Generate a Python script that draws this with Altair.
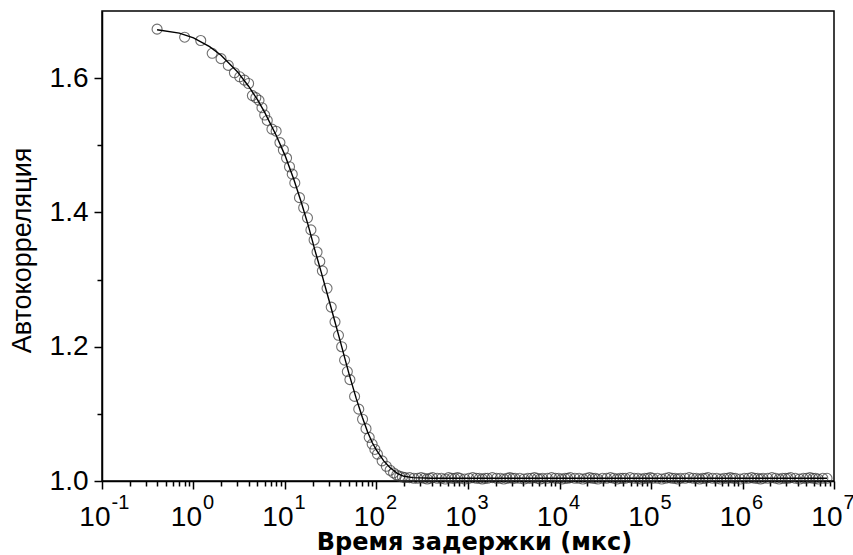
import altair as alt
import pandas as pd

# --- measured correlation curve (lag time, us) ---
tau = [0.4, 0.8, 1.2, 1.6, 2.0, 2.4, 2.8, 3.2, 3.6, 4.0, 4.4, 4.8, 5.2, 5.6, 6.0, 6.4,
       7.2, 8.0, 8.8, 9.6, 10.4, 11.2, 12.0, 12.8,
       14.4, 16.0, 17.6, 19.2, 20.8, 22.4, 24.0, 25.6,
       28.8, 32.0, 35.2, 38.4, 41.6, 44.8, 48.0, 51.2,
       57.6, 64.0, 70.4, 76.8, 83.2, 89.6, 96.0, 102.4,
       115.2, 128.0, 140.8, 153.6, 166.4, 179.2, 192.0, 204.8]
acf = [1.673, 1.661, 1.656, 1.637, 1.629, 1.619, 1.608, 1.602, 1.597, 1.592, 1.574, 1.571, 1.567, 1.556, 1.545, 1.537,
       1.524, 1.521, 1.504, 1.493, 1.481, 1.468, 1.457, 1.444,
       1.422, 1.407, 1.392, 1.374, 1.359, 1.341, 1.327, 1.313,
       1.287, 1.259, 1.237, 1.217, 1.200, 1.180, 1.163, 1.151,
       1.126, 1.107, 1.092, 1.078, 1.065, 1.055, 1.047, 1.040,
       1.030, 1.022, 1.016, 1.012, 1.009, 1.007, 1.006, 1.005]

# --- flat tail of the measured curve ---
tail_tau = [230.4, 256, 281.6, 307.2, 332.8, 358.4, 384, 409.6,
            460.8, 512, 563.2, 614.4, 665.6, 716.8, 768, 819.2,
            921.6, 1024, 1126.4, 1228.8, 1331.2, 1433.6, 1536, 1638.4,
            1843.2, 2048, 2252.8, 2457.6, 2662.4, 2867.2, 3072, 3276.8,
            3686.4, 4096, 4505.6, 4915.2, 5324.8, 5734.4, 6144, 6553.6,
            7372.8, 8192, 9011.2, 9830.4, 10649.6, 11468.8, 12288, 13107.2,
            14745.6, 16384, 18022.4, 19660.8, 21299.2, 22937.6, 24576, 26214.4,
            29491.2, 32768, 36044.8, 39321.6, 42598.4, 45875.2, 49152, 52428.8,
            58982.4, 65536, 72089.6, 78643.2, 85196.8, 91750.4, 98304, 104857.6,
            117964.8, 131072, 144179.2, 157286.4, 170393.6, 183500.8, 196608, 209715.2,
            235929.6, 262144, 288358.4, 314572.8, 340787.2, 367001.6, 393216, 419430.4,
            471859.2, 524288, 576716.8, 629145.6, 681574.4, 734003.2, 786432, 838860.8,
            943718.4, 1048576, 1153433.6, 1258291.2, 1363148.8, 1468006.4, 1572864, 1677721.6,
            1887436.8, 2097152, 2306867.2, 2516582.4, 2726297.6, 2936012.8, 3145728, 3355443.2,
            3774873.6, 4194304, 4613734.4, 5033164.8, 5452595.2, 5872025.6, 6291456, 6710886.4,
            7549747.2, 8388608]
tail_acf = [1.005, 1.004, 1.004, 1.005, 1.004, 1.003, 1.004, 1.005,
            1.004, 1.004, 1.003, 1.005, 1.004, 1.004, 1.005, 1.004,
            1.003, 1.004, 1.005, 1.004, 1.004, 1.003, 1.004, 1.004,
            1.005, 1.004, 1.004, 1.003, 1.004, 1.005, 1.004, 1.004,
            1.004, 1.003, 1.004, 1.004, 1.005, 1.004, 1.003, 1.004,
            1.004, 1.005, 1.004, 1.004, 1.003, 1.004, 1.004, 1.005,
            1.004, 1.004, 1.003, 1.004, 1.005, 1.004, 1.004, 1.003,
            1.004, 1.004, 1.005, 1.004, 1.003, 1.004, 1.004, 1.004,
            1.005, 1.004, 1.004, 1.003, 1.004, 1.004, 1.005, 1.004,
            1.004, 1.003, 1.004, 1.005, 1.004, 1.004, 1.003, 1.004,
            1.004, 1.005, 1.004, 1.004, 1.003, 1.004, 1.004, 1.005,
            1.004, 1.004, 1.003, 1.004, 1.004, 1.005, 1.004, 1.004,
            1.003, 1.004, 1.004, 1.005, 1.004, 1.004, 1.003, 1.004,
            1.004, 1.005, 1.004, 1.003, 1.004, 1.004, 1.004, 1.005,
            1.004, 1.003, 1.004, 1.004, 1.005, 1.004, 1.004, 1.003,
            1.004, 1.004]

# --- fitted curve ---
fit_tau = [0.4, 0.7, 1, 1.5, 2, 3, 4, 5, 6, 8, 10, 12.5, 15, 18, 21, 25, 30, 35, 40, 45,
           50, 60, 70, 80, 90, 100, 120, 140, 170, 200, 250, 400, 1000, 1e4, 1e5, 1e6, 8388608]
fit_acf = [1.672, 1.667, 1.660, 1.647, 1.634, 1.610, 1.588, 1.568, 1.549, 1.515, 1.485, 1.449,
           1.416, 1.380, 1.346, 1.310, 1.271, 1.238, 1.209, 1.183, 1.160, 1.123, 1.095, 1.073,
           1.057, 1.046, 1.030, 1.020, 1.011, 1.007, 1.005, 1.004, 1.004, 1.004, 1.004, 1.004, 1.004]

# --- axis ticks ---
x_major = [0.1, 1, 10, 100, 1000, 10000, 100000, 1000000, 10000000]
x_minor = [m * 10.0 ** k for k in range(-1, 7) for m in range(2, 10)]
y_major = [1.0, 1.2, 1.4, 1.6]
y_minor = [1.1, 1.3, 1.5]

pts = pd.DataFrame({"tau": tau + tail_tau, "acf": acf + tail_acf})
fit = pd.DataFrame({"tau": fit_tau, "acf": fit_acf})

W, H = 732, 470
LEFT, TOP = 102, 11

xs = alt.Scale(type="log", domain=[0.1, 1e7], nice=False)
ys = alt.Scale(domain=[1.0, 1.7], nice=False, zero=False)

points = alt.Chart(pts).mark_point(
    shape="circle", filled=False, size=100, color="#333333", strokeWidth=1.1
).encode(
    x=alt.X("tau:Q", scale=xs, axis=alt.Axis(
        orient="bottom", values=x_minor, labels=False, domain=False, grid=False,
        tickSize=5, tickWidth=1.5, tickColor="black", title=None)),
    y=alt.Y("acf:Q", scale=ys, axis=alt.Axis(
        orient="left", values=y_minor, labels=False, domain=False, grid=False,
        tickSize=5, tickWidth=1.5, tickColor="black", title=None)),
)

line = alt.Chart(fit).mark_line(color="black", strokeWidth=1.4).encode(
    x=alt.X("tau:Q", scale=xs, axis=alt.Axis(
        orient="bottom", values=x_major, labelExpr="'10'",
        labelFont="Liberation Sans", labelFontSize=28, labelColor="black",
        labelAlign="right", labelOffset=8, labelBaseline="alphabetic", labelPadding=36,
        labelOverlap=False, labelFlush=False,
        tickSize=8, tickWidth=1.5, tickColor="black",
        domainColor="black", domainWidth=1.5, grid=False,
        title="Время задержки (мкс)", titleFont="DejaVu Sans", titleFontWeight="bold",
        titleFontSize=24, titleColor="black", titleX=372, titleY=68,
        titleAlign="center", titleBaseline="alphabetic")),
    y=alt.Y("acf:Q", scale=ys, axis=alt.Axis(
        orient="left", values=y_major, format=".1f",
        labelFont="Liberation Sans", labelFontSize=28, labelColor="black", labelPadding=6,
        labelOverlap=False, labelFlush=False,
        tickSize=8, tickWidth=1.5, tickColor="black",
        domainColor="black", domainWidth=1.5, grid=False,
        title="Автокорреляция", titleFont="Liberation Sans", titleFontWeight="normal",
        titleFontSize=27, titleColor="black", titleX=-80, titleY=239,
        titleAngle=270, titleAlign="center", titleBaseline="middle")),
)

expo = alt.Chart(fit).mark_line(strokeOpacity=0).encode(
    x=alt.X("tau:Q", scale=xs, axis=alt.Axis(
        orient="bottom", values=x_major,
        labelExpr="'' + round(log(datum.value) / LN10)",
        labelFont="Liberation Sans", labelFontSize=20, labelColor="black",
        labelAlign="left", labelOffset=9, labelBaseline="alphabetic", labelPadding=19,
        labelOverlap=False, labelFlush=False,
        tickSize=8, tickOpacity=0, domain=False, grid=False, title=None)),
    y=alt.Y("acf:Q", scale=ys, axis=None),
)

chart = alt.layer(points, line, expo).resolve_axis(
    x="independent", y="independent"
).properties(
    width=W, height=H,
    autosize=alt.AutoSizeParams(type="none"),
    padding={"left": LEFT, "top": TOP, "right": 853 - LEFT - W, "bottom": 555 - TOP - H},
    background="white",
).configure_view(stroke="black", strokeWidth=1.5)

chart.save("out.html", embed_options={"renderer": "svg", "actions": False})
